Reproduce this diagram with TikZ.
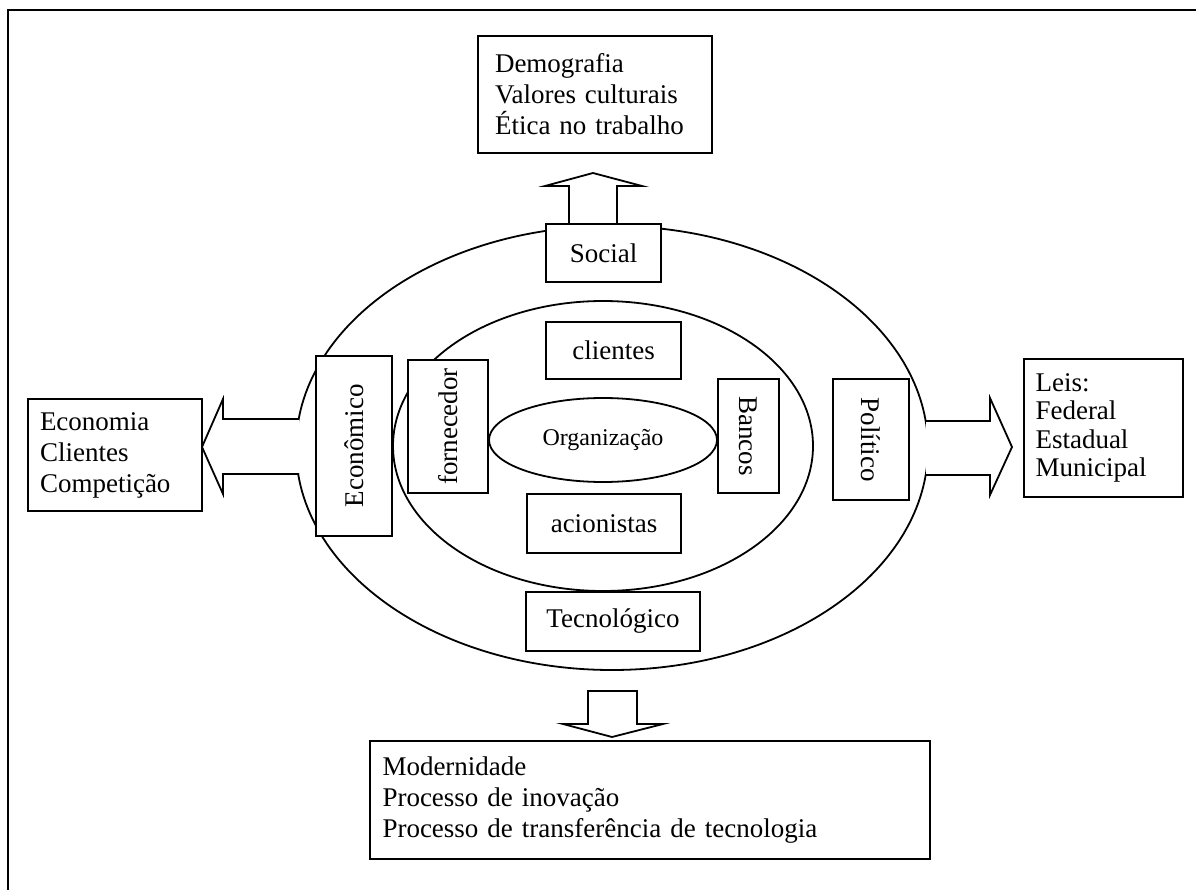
\documentclass[tikz,border=0pt]{standalone}
\usepackage{fontspec}
\setmainfont{Liberation Serif}
\usetikzlibrary{shapes.geometric,calc}
\begin{document}
\begin{tikzpicture}[x=1pt,y=-1pt,
  line width=1.8pt,
  lbl/.style={font=\fontsize{27}{31}\selectfont},
  box/.style={draw, fill=white, inner sep=0pt, lbl},
  listbox/.style={draw, fill=white, inner sep=0pt, lbl, align=left},
  ring/.style={draw, ellipse, inner sep=0pt},
  blockarrow/.style={draw, fill=white, line join=miter}]
\useasboundingbox (0,0) rectangle (1196,890);
% frame
\draw[line width=2.6pt] (8,890) -- (8,10) -- (1196,10);

% environment rings
\node[ring, minimum width=632pt, minimum height=444pt] (outer) at (612,448) {};
\node[ring, minimum width=420pt, minimum height=290pt] (inner) at (603,446) {};

% block arrows
\draw[blockarrow] (569,224) -- (569,186) -- (545,186) -- (593,173) -- (642,186) -- (617,186) -- (617,224);
\draw[blockarrow] (588,691) -- (637,691) -- (637,724) -- (663,724) -- (612,737) -- (563,724) -- (588,724) -- cycle;
\draw[blockarrow] (299,419) -- (223,419) -- (223,399) -- (202,447) -- (223,494) -- (223,474) -- (299,474);
\draw[blockarrow] (926,421) -- (990,421) -- (990,398) -- (1012,447) -- (990,495) -- (990,475) -- (926,475);

% outer list boxes
\node[listbox, minimum width=234pt, minimum height=117pt, text width=200pt] (topbox) at (595,94.5)
  {Demografia\\Valores culturais\\Ética no trabalho};
\node[listbox, minimum width=174pt, minimum height=112pt, text width=150pt] (econlist) at (115,455)
  {Economia\\Clientes\\Competição};
\node[listbox, minimum width=159pt, minimum height=138pt, text width=136pt, font=\fontsize{27}{28.5}\selectfont] (leis) at (1103.5,428)
  {Leis:\\Federal\\Estadual\\Municipal};
\node[listbox, minimum width=560pt, minimum height=118pt, text width=535pt] (bottombox) at (650,800)
  {Modernidade\\Processo de inovação\\Processo de transferência de tecnologia};

% environment forces
\node[box, minimum width=115pt, minimum height=58pt] (social) at (603.5,253) {Social};
\node[box, minimum width=174pt, minimum height=59pt] (tecno) at (613,621.5) {Tecnológico};
\node[box, minimum width=180pt, minimum height=76pt, rotate=90] (econ) at (354,446) {Econômico};
\node[box, minimum width=121pt, minimum height=76pt, rotate=-90] (polit) at (871,439.5) {Político};

% stakeholders
\node[box, minimum width=135pt, minimum height=57pt] (clientes) at (613.5,350.5) {clientes};
\node[box, minimum width=154pt, minimum height=59pt] (acion) at (604,523.5) {acionistas};
\node[box, minimum width=133pt, minimum height=80pt, rotate=90] (fornec) at (448,426.5) {fornecedor};
\node[box, minimum width=114pt, minimum height=61pt, rotate=-90] (bancos) at (748.5,436) {Bancos};

% organisation
\node[ring, minimum width=228pt, minimum height=84pt, font=\fontsize{24}{28}\selectfont] (org) at (603,440) {Organização};
\end{tikzpicture}
\end{document}
